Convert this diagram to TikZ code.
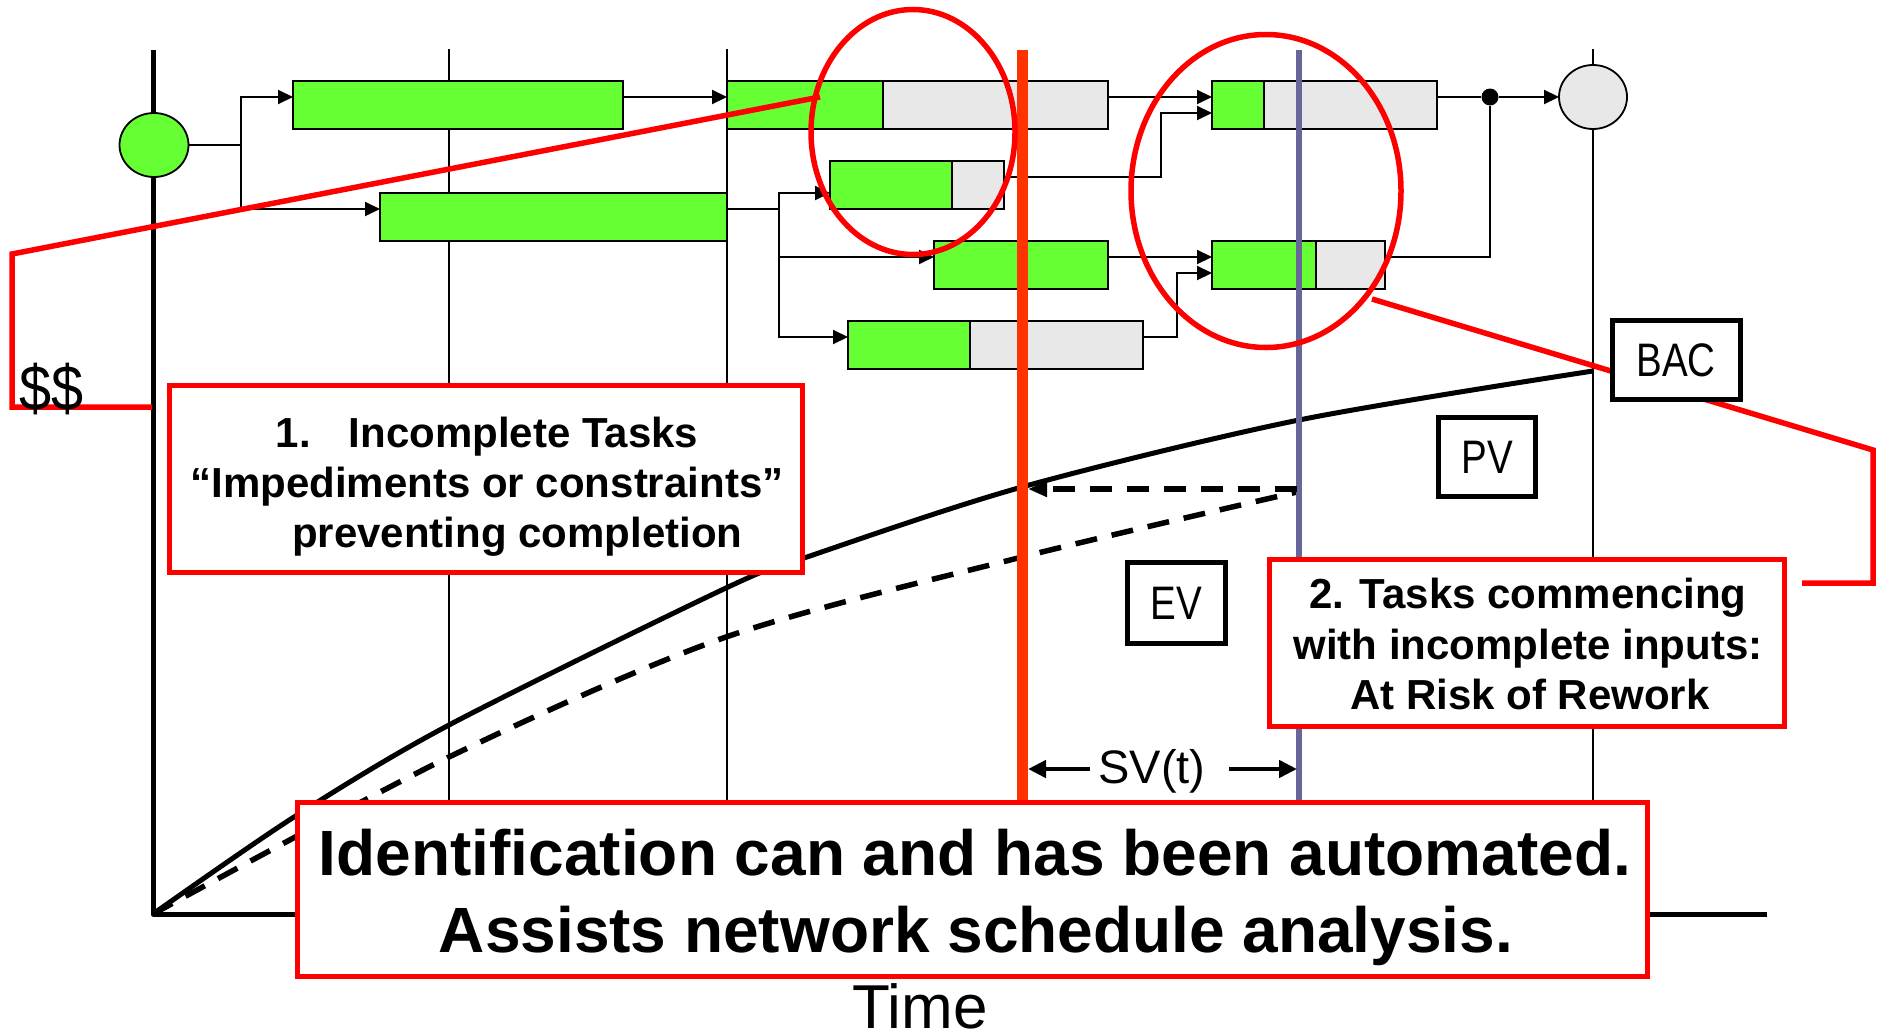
\documentclass[tikz,border=0pt]{standalone}
\usepackage{fontspec}
\setmainfont{Liberation Sans}
\usepackage{graphicx}
\usetikzlibrary{arrows.meta,shapes.geometric}

\definecolor{donegreen}{HTML}{66FF33}
\definecolor{idlegray}{HTML}{E8E8E8}
\definecolor{statusline}{HTML}{FF3300}
\definecolor{plannedline}{HTML}{666699}
\definecolor{callred}{HTML}{FF0000}

% task bar: name, left, top, right, bottom, end of the completed (green) part
\newcommand\taskbar[6]{%
  \fill[donegreen] (#2,#3) rectangle (#6,#5);
  \fill[idlegray] (#6,#3) rectangle (#4,#5);
  \draw[line width=2pt] (#6,#3) -- (#6,#5);
  \node[taskframe, minimum width={#4-#2}, minimum height={#5-#3}] (#1) at (#2,#3) {};
}

\begin{document}
\begin{tikzpicture}[x=1pt, y=-1pt,
  gridline/.style={line width=1.6pt},
  axisline/.style={line width=5pt},
  pvline/.style={line width=5pt},
  evline/.style={line width=5.5pt, dash pattern=on 22pt off 15pt},
  flow/.style={line width=2pt},
  flowto/.style={flow, -{Triangle[length=15pt,width=14pt]}},
  taskframe/.style={draw, line width=2.5pt, inner sep=0pt, outer sep=0pt, anchor=north west},
  event/.style={ellipse, draw, line width=1.8pt, inner sep=0pt, outer sep=0pt},
  ring/.style={ellipse, draw=callred, line width=5.5pt, inner sep=0pt},
  callout/.style={draw=callred, line width=5.5pt},
  notebox/.style={draw=callred, line width=5pt, fill=white, inner sep=0pt},
  valbox/.style={draw, line width=5pt, fill=white, inner sep=0pt,
    font=\fontsize{47}{47}\selectfont},
  boldtext/.style={inner sep=0pt, font={\bfseries\fontsize{42}{50}\selectfont}},
  bigtext/.style={inner sep=0pt, font={\bfseries\fontsize{64}{77}\selectfont}},
  svarrow/.style={line width=4.5pt, -{Triangle[length=18pt,width=17pt]}},
]
\useasboundingbox (0,0) rectangle (1878,1033);

% time grid
\draw[gridline] (449,49) -- (449,914);
\draw[gridline] (727,49) -- (727,914);
\draw[gridline] (1593,49) -- (1593,914);

% axes
\draw[axisline, line join=round] (1767,914) -- (153,914) -- (153,50);

% planned value and earned value curves
\draw[pvline] plot[smooth] coordinates {(153,914) (294,817) (449,725) (726,588)
  (807,557) (1022,487) (1299,420) (1593,371)};
\draw[evline] plot[smooth] coordinates {(153,914) (449,757) (726,637)
  (1022,557) (1297,492)};

% network schedule
\taskbar{t1}{293}{81}{623}{129}{623}
\taskbar{t2}{380}{193}{727}{241}{727}
\taskbar{t3}{727}{81}{1108}{129}{883}
\taskbar{t4}{830}{161}{1004}{209}{952}
\taskbar{t5}{934}{241}{1108}{289}{1108}
\taskbar{t6}{848}{321}{1143}{369}{970}
\taskbar{t7}{1212}{81}{1437}{129}{1264}
\taskbar{t8}{1212}{241}{1385}{289}{1316}

\node[event, fill=donegreen, minimum width=69pt, minimum height=64pt] (s) at (154,145) {};
\node[event, fill=idlegray, minimum width=68pt, minimum height=64pt] (f) at (1593,97) {};
\node[circle, fill=black, inner sep=0pt, minimum size=17pt] (j) at (1490,97) {};

\coordinate (fork1) at (241,145);
\coordinate (fork2) at (779,209);
\draw[flow] (s.east) -- (fork1);
\draw[flowto] (fork1) |- (t1.west |- 0,97);
\draw[flowto] (fork1) |- (t2.west |- 0,209);
\draw[flowto] (t1.east |- 0,97) -- (t3.west |- 0,97);
\draw[flow] (t2.east |- fork2) -- (fork2);
\draw[flowto] (fork2) |- (t4.west |- 0,193);
\draw[flowto] (fork2) |- (t5.west |- 0,257);
\draw[flowto] (fork2) |- (t6.west |- 0,337);
\draw[flowto] (t3.east |- 0,97) -- (t7.west |- 0,97);
\draw[flowto] (t4.east |- 0,177) -| (1161,113) -- (t7.west |- 0,113);
\draw[flowto] (t5.east |- 0,257) -- (t8.west |- 0,257);
\draw[flowto] (t6.east |- 0,337) -| (1177,273) -- (t8.west |- 0,273);
\draw[flow] (t7.east |- j) -- (j);
\draw[flow] (t8.east |- 0,257) -| (j);
\draw[flowto] (j) -- (f);

% status date and planned date
\draw[line width=11pt, statusline] (1022,50) -- (1022,800);
\draw[line width=5.5pt, plannedline] (1299,50) -- (1299,800);

% earned value projected back onto the planned curve
\draw[evline, -{Triangle[length=19pt,width=15pt]}] (1297,489) -- (1028,489);

% highlighted problem areas and their call-outs
\node[ring, minimum width=204pt, minimum height=245pt] (h1) at (913,132) {};
\node[ring, minimum width=270pt, minimum height=313pt] (h2) at (1266,191) {};
\coordinate (k1) at (820,97);
\coordinate (k1end) at (152,407);
\draw[callout] (k1) -- (12,254) -- (12,407) -- (k1end);
\coordinate (k2) at (1372,299);
\coordinate (k2end) at (1802,583);
\draw[callout] (k2) -- (1873,450) -- (1873,583) -- (k2end);

% value labels
\node[valbox, minimum width=98pt, minimum height=81pt] (ev) at (1176,603) {\scalebox{0.82}[1]{EV}};
\node[valbox, minimum width=97pt, minimum height=79pt] (pv) at (1487,457) {\scalebox{0.82}[1]{PV}};
\node[valbox, minimum width=128pt, minimum height=79pt] (bac) at (1676,360) {\scalebox{0.82}[1]{BAC}};

% note boxes
\node[notebox, minimum width=633pt, minimum height=187pt] (n1) at (486,479) {};
\node[boldtext, anchor=base] (n1a) at (487,447) {1.\hspace{38pt}Incomplete Tasks};
\node[boldtext, anchor=base] (n1b) at (487,497) {“Impediments or constraints”};
\node[boldtext, anchor=base west] (n1c) at (292,547) {preventing completion};

\node[notebox, minimum width=515pt, minimum height=167pt] (n2) at (1527,643) {};
\node[boldtext, anchor=base] (n2a) at (1528,608) {2. Tasks commencing};
\node[boldtext, anchor=base] (n2b) at (1528,659) {with incomplete inputs:};
\node[boldtext, anchor=base] (n2c) at (1530,709) {At Risk of Rework};

% schedule variance in time
\draw[svarrow] (1090,769) -- (1028,769);
\draw[svarrow] (1229,769) -- (1297,769);
\node[inner sep=0pt, anchor=base, font=\fontsize{47}{47}\selectfont] (sv) at (1152,783) {SV(t)};

% summary box
\node[notebox, minimum width=1350pt, minimum height=174pt] (n3) at (972,889) {};
\node[bigtext, anchor=base] (m1) at (975,875) {Identification can and has been automated.};
\node[bigtext, anchor=base] (m2) at (976,952) {Assists network schedule analysis.};

% axis labels
\node[inner sep=0pt, anchor=base, font=\fontsize{62}{62}\selectfont] (tm) at (920,1028) {Time};
\node[inner sep=0pt, anchor=base west, font=\fontsize{64}{64}\selectfont] (dd) at (19,410) {\scalebox{0.9}[1]{\$\$}};
\end{tikzpicture}
\end{document}
